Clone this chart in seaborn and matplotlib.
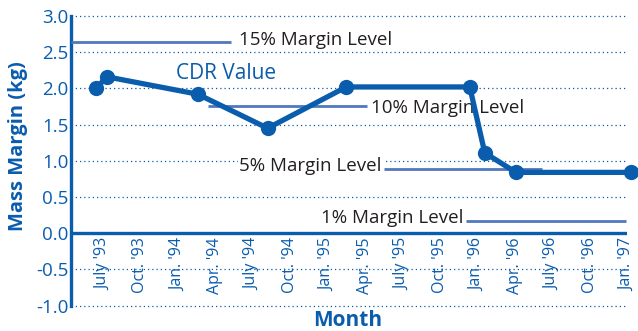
import matplotlib
matplotlib.use("Agg")
import matplotlib.pyplot as plt
import seaborn as sns
import pandas as pd

# CDR mass margin history (months counted from Jan. '93)
months = [5.44, 6.32, 13.6, 19.2, 25.5, 35.4, 36.6, 39.1, 48.3]
margin_kg = [2.00, 2.16, 1.92, 1.45, 2.02, 2.02, 1.11, 0.84, 0.84]

# Reference margin levels: label, value, start month, end month
level_labels = ["15% Margin Level", "10% Margin Level", "5% Margin Level", "1% Margin Level"]
level_values = [2.64, 1.76, 0.885, 0.17]
level_start = [3.44, 14.4, 28.5, 35.1]
level_end = [16.3, 27.2, 41.2, 47.9]

tick_months = [6, 9, 12, 15, 18, 21, 24, 27, 30, 33, 36, 39, 42, 45, 48]
tick_labels = ["July '93", "Oct. '93", "Jan. '94", "Apr. '94", "July '94", "Oct. '94",
               "Jan. '95", "Apr. '95", "July '95", "Oct. '95", "Jan. '96", "Apr. '96",
               "July '96", "Oct. '96", "Jan. '97"]
y_ticks = [-1.0, -0.5, 0.0, 0.5, 1.0, 1.5, 2.0, 2.5, 3.0]

BLUE = "#0a5cad"
LEVEL_BLUE = "#4f78bd"
TEXT_GRAY = "#231f20"

sns.set_theme(style="white")
plt.rcParams["font.family"] = ["Open Sans", "DejaVu Sans"]

fig = plt.figure(figsize=(6.38, 3.31), dpi=100)
ax = fig.add_axes([71 / 638, 25.4 / 331, (627 - 71) / 638, (315 - 25.4) / 331])

# dotted grid
for yv in y_ticks:
    if yv != 0.0:
        ax.axhline(yv, color=BLUE, lw=0.9, ls=(0, (1, 2.4)), zorder=1, clip_on=False)

# zero line and left spine
ax.axhline(0.0, color=BLUE, lw=2.4, zorder=2)
for s in ["top", "right", "bottom"]:
    ax.spines[s].set_visible(False)
ax.spines["left"].set_color(BLUE)
ax.spines["left"].set_linewidth(2.4)

# margin level lines
for lab, val, x0, x1 in zip(level_labels, level_values, level_start, level_end):
    ax.plot([x0, x1], [val, val], color=LEVEL_BLUE, lw=2.0, zorder=3, solid_capstyle="butt")

txt_kw = dict(fontsize=13.5, color=TEXT_GRAY, va="center", zorder=4,
              bbox=dict(facecolor="white", edgecolor="none", pad=1.0))
ax.text(16.9, 2.67, level_labels[0], ha="left", **txt_kw)
ax.text(27.5, 1.73, level_labels[1], ha="left", zorder=4, fontsize=13.5, color=TEXT_GRAY, va="center")
ax.text(28.3, 0.93, level_labels[2], ha="right", **txt_kw)
ax.text(34.9, 0.21, level_labels[3], ha="right", **txt_kw)

# CDR value series
df = pd.DataFrame({"month": months, "margin": margin_kg})
sns.lineplot(data=df, x="month", y="margin", ax=ax, color=BLUE, lw=3.8,
             marker="o", markersize=11, markeredgewidth=0, sort=False,
             zorder=5, clip_on=False)
ax.text(15.9, 2.2, "CDR Value", color=BLUE, fontsize=15, ha="center", va="center", zorder=6)

ax.set_xlim(3.44, 48)
ax.set_ylim(-1.0, 3.0)
ax.set_yticks(y_ticks)
ax.set_yticklabels([f"{v:.1f}" for v in y_ticks], color=BLUE, fontsize=13.5)
ax.set_xticks(tick_months)
ax.set_xticklabels([])
for xm, lab in zip(tick_months, tick_labels):
    ax.text(xm, -0.06, lab, rotation=90, ha="center", va="top", color=BLUE, fontsize=11.5)
ax.tick_params(axis="both", length=0, pad=2)

ax.set_xlabel("")
ax.set_ylabel("")
fig.text(18 / 638, 1 - 146 / 331, "Mass Margin (kg)", color=BLUE, fontsize=14.5,
         fontweight="bold", rotation=90, ha="center", va="center")
fig.text(348 / 638, 1 - 320 / 331, "Month", color=BLUE, fontsize=15, fontweight="bold",
         ha="center", va="center")

fig.savefig("out.png", dpi=100)
